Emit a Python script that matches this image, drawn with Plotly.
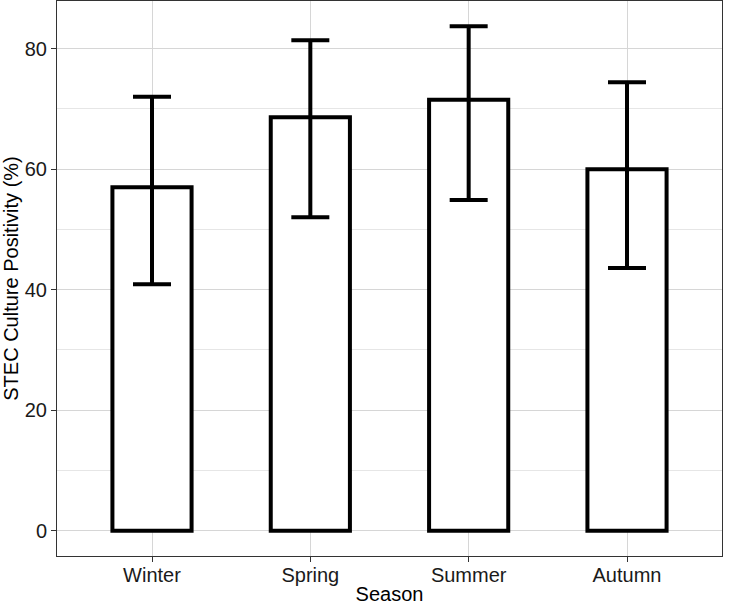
import plotly.graph_objects as go

seasons = ["Winter", "Spring", "Summer", "Autumn"]
positivity = [57.0, 68.6, 71.5, 60.0]
upper = [72.0, 81.4, 83.7, 74.4]
lower = [40.9, 52.0, 54.9, 43.6]

err_plus = [u - v for u, v in zip(upper, positivity)]
err_minus = [v - l for v, l in zip(positivity, lower)]

fig = go.Figure()
fig.add_trace(go.Bar(
    x=seasons, y=positivity, width=0.5,
    marker=dict(color="white", line=dict(color="black", width=4)),
    error_y=dict(type="data", symmetric=False, array=err_plus, arrayminus=err_minus,
                 color="black", thickness=4, width=19),
    showlegend=False,
))

font = "Liberation Sans, Arial, sans-serif"
fig.update_layout(
    width=735, height=605,
    margin=dict(l=57, r=13, t=1, b=49, autoexpand=False),
    paper_bgcolor="white", plot_bgcolor="white",
    font=dict(family=font, size=20, color="black"),
    xaxis=dict(
        title=dict(text="Season", font=dict(size=20, color="black"), standoff=7),
        automargin=False,
        range=[-0.6, 3.6], showgrid=True, gridcolor="#d6d6d6", gridwidth=1.2,
        showline=True, mirror=True, linecolor="#333333", linewidth=1,
        ticks="outside", ticklen=5, tickcolor="#333333", ticklabelstandoff=-4,
        tickfont=dict(size=20, color="#1a1a1a"), zeroline=False,
    ),
    yaxis=dict(
        title=dict(text="STEC Culture Positivity (%)", font=dict(size=20, color="black"), standoff=0),
        automargin=False,
        range=[-4.19, 87.9], tickvals=[0, 20, 40, 60, 80], showgrid=True, gridcolor="#d6d6d6", gridwidth=1.2,
        minor=dict(tickvals=[10, 30, 50, 70], showgrid=True, gridcolor="#e6e6e6", gridwidth=1, ticks=""),
        showline=True, mirror=True, linecolor="#333333", linewidth=1,
        ticks="outside", ticklen=5, tickcolor="#333333",
        tickfont=dict(size=20, color="#1a1a1a"), zeroline=False,
    ),
)

fig.write_html("out.html", config={"displayModeBar": False},
               post_script="document.body.style.margin='0px';")
